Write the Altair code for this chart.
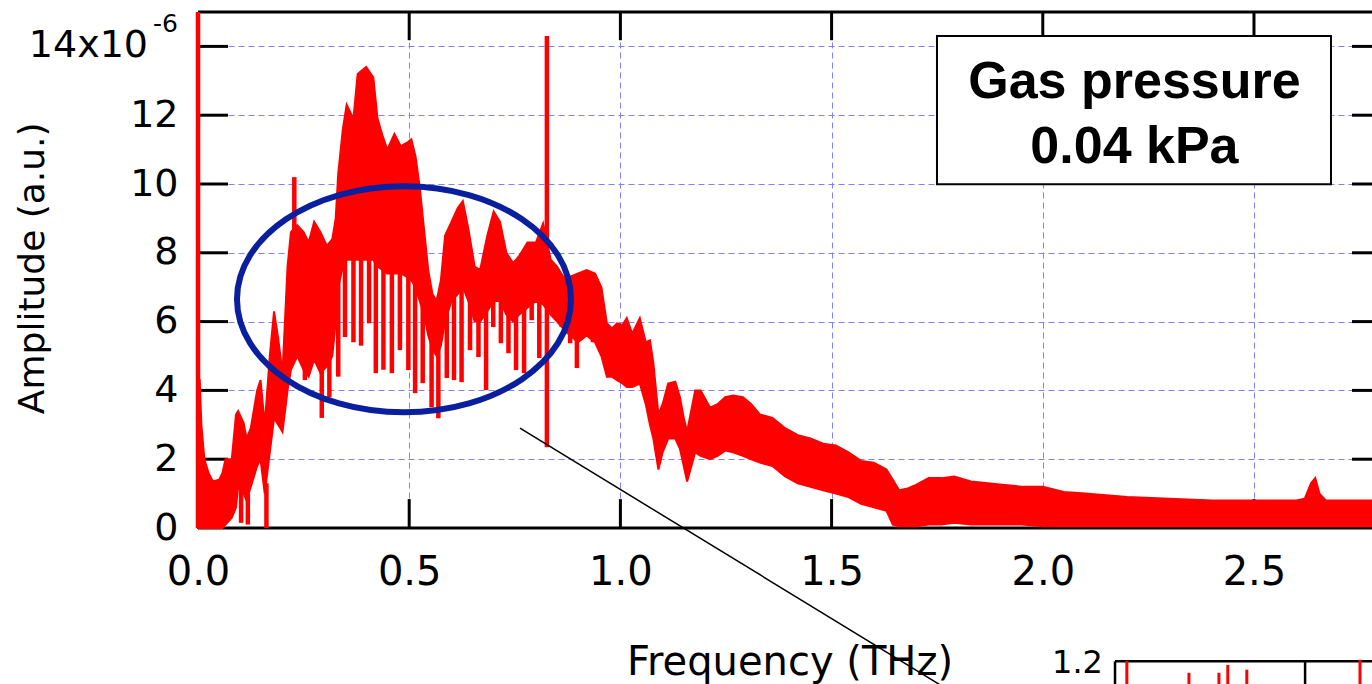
import altair as alt
import pandas as pd

# ---------------- data ----------------
# main spectrum: frequency (THz), upper envelope and lower envelope of the trace (x1e-6 a.u.)
freq = [0.000, 0.004, 0.008, 0.015, 0.025, 0.035, 0.050, 0.058, 0.065, 0.080, 0.090, 0.095,
        0.108, 0.115, 0.125, 0.140, 0.148, 0.158, 0.170, 0.180, 0.190, 0.200, 0.212, 0.220,
        0.235, 0.250, 0.262, 0.275, 0.290, 0.305, 0.318, 0.326, 0.332, 0.343, 0.352, 0.368,
        0.378, 0.398, 0.415, 0.425, 0.437, 0.448, 0.465, 0.480, 0.495, 0.505, 0.515, 0.525,
        0.535, 0.545, 0.555, 0.565, 0.575, 0.585, 0.600, 0.615, 0.627, 0.640, 0.655, 0.668,
        0.685, 0.700, 0.715, 0.730, 0.746, 0.760, 0.780, 0.800, 0.817, 0.835, 0.850, 0.865,
        0.880, 0.900, 0.920, 0.940, 0.955, 0.968, 0.980, 0.992, 1.005, 1.015, 1.028, 1.046,
        1.060, 1.070, 1.078, 1.090, 1.100, 1.113, 1.130, 1.141, 1.150, 1.158, 1.177, 1.190,
        1.212, 1.230, 1.248, 1.267, 1.290, 1.310, 1.330, 1.360, 1.390, 1.420, 1.450, 1.480,
        1.510, 1.540, 1.570, 1.600, 1.630, 1.645, 1.660, 1.680, 1.700, 1.730, 1.760, 1.790,
        1.830, 1.870, 1.910, 1.950, 2.000, 2.050, 2.100, 2.150, 2.200, 2.300, 2.400, 2.500,
        2.600, 2.620, 2.635, 2.645, 2.655, 2.670, 2.779]
upper = [4.3, 4.3, 3.0, 2.0, 1.6, 1.35, 1.4, 1.6, 2.0, 2.0, 3.3, 3.4,
         3.05, 2.6, 2.9, 4.0, 4.3, 3.0, 5.0, 6.3, 5.5, 4.5, 7.6, 8.6,
         8.8, 8.6, 8.3, 8.9, 8.6, 8.2, 8.4, 9.0, 10.3, 11.6, 12.3, 11.9,
         13.2, 13.4, 13.1, 11.9, 11.4, 11.0, 11.45, 11.1, 11.2, 11.3, 10.8, 9.9,
         8.7, 7.5, 6.8, 6.6, 7.2, 8.5, 8.9, 9.3, 9.5, 8.7, 7.6, 7.5,
         8.5, 9.2, 8.9, 8.0, 7.7, 7.9, 8.3, 8.3, 8.85, 7.8, 7.6, 7.3,
         7.3, 7.4, 7.5, 7.4, 7.0, 5.95, 5.8, 5.95, 5.9, 6.1, 5.65, 6.1,
         5.4, 5.45, 4.8, 3.3, 3.6, 4.2, 4.25, 3.8, 3.2, 2.8, 4.0, 4.0,
         3.5, 3.6, 3.8, 3.85, 3.8, 3.6, 3.3, 3.2, 2.9, 2.7, 2.6, 2.45,
         2.4, 2.2, 1.95, 1.9, 1.7, 1.4, 1.1, 1.15, 1.25, 1.45, 1.45, 1.5,
         1.35, 1.3, 1.25, 1.2, 1.2, 1.05, 1.0, 0.95, 0.9, 0.85, 0.8, 0.8,
         0.8, 0.85, 1.3, 1.45, 1.0, 0.8, 0.8]
lower = [0.0, 0.0, 0.0, 0.0, 0.0, 0.0, 0.0, 0.0, 0.1, 0.3, 0.6, 1.2,
         1.0, 0.8, 1.2, 1.8, 2.0, 1.0, 2.2, 3.2, 3.0, 2.8, 4.0, 4.6,
         5.0, 4.6, 4.4, 4.9, 4.5, 4.7, 5.0, 6.0, 7.0, 7.6, 7.8, 7.8,
         7.8, 7.8, 7.8, 7.6, 7.5, 7.4, 7.4, 7.4, 7.3, 7.2, 7.0, 6.6,
         6.2, 5.6, 5.2, 5.0, 5.3, 6.0, 6.6, 6.8, 7.0, 6.6, 6.0, 6.0,
         6.3, 6.6, 6.6, 6.2, 6.0, 6.2, 6.4, 6.6, 6.5, 6.2, 6.0, 5.8,
         5.6, 5.4, 5.6, 5.4, 5.0, 4.4, 4.4, 4.3, 4.2, 4.1, 4.1, 4.2,
         3.6, 3.0, 2.6, 1.7, 2.2, 2.6, 2.6, 2.3, 1.8, 1.35, 2.2, 2.1,
         2.0, 2.1, 2.25, 2.2, 2.1, 2.0, 1.9, 1.8, 1.5, 1.3, 1.2, 1.1,
         1.0, 0.9, 0.7, 0.6, 0.5, 0.1, 0.05, 0.05, 0.05, 0.1, 0.1, 0.15,
         0.1, 0.1, 0.1, 0.1, 0.05, 0.05, 0.05, 0.05, 0.05, 0.05, 0.05, 0.05,
         0.05, 0.05, 0.05, 0.05, 0.05, 0.05, 0.05]

# narrow spikes / comb dips of the trace: frequency, tip value, value where the dip leaves the body
tooth_f = [0.000, 0.102, 0.118, 0.162, 0.228, 0.253, 0.293, 0.311, 0.332, 0.348, 0.368, 0.386,
           0.405, 0.421, 0.439, 0.459, 0.478, 0.498, 0.514, 0.532, 0.553, 0.569, 0.589, 0.606,
           0.624, 0.644, 0.664, 0.682, 0.699, 0.717, 0.735, 0.753, 0.772, 0.790, 0.808, 0.826,
           0.843, 0.861, 0.881, 0.897, 0.935, 0.956]
tooth_tip = [0.0, 0.15, 0.1, 0.0, 10.2, 4.3, 3.2, 3.8, 4.4, 5.55, 5.4, 5.3,
             5.95, 4.5, 4.6, 4.5, 5.17, 4.59, 3.92, 4.21, 3.51, 3.19, 4.36, 4.30,
             4.24, 5.17, 4.97, 4.01, 5.84, 5.37, 5.08, 4.59, 4.5, 6.04, 4.94, 2.35,
             6.24, 5.84, 5.37, 4.65, 5.4, 5.1]
tooth_top = [15.0, 1.4, 1.0, 1.3, 8.5, 5.0, 5.0, 5.2, 8.0, 8.0, 8.0, 8.0,
             8.0, 8.0, 7.8, 7.6, 7.6, 7.5, 7.2, 6.8, 5.6, 5.4, 6.4, 7.0,
             7.2, 6.8, 6.2, 6.5, 6.8, 6.8, 6.4, 6.2, 6.5, 6.8, 6.7, 14.3,
             6.4, 6.0, 5.8, 5.6, 5.8, 5.4]

x_ticks = [0.0, 0.5, 1.0, 1.5, 2.0, 2.5]
y_ticks = [0, 2, 4, 6, 8, 10, 12, 14]
XMAX = 2.7794
YMAX = 15.0

# inset fragment (bottom right, cut off in the picture)
inset_spike_f = [2.199, 2.346, 2.417, 2.438, 2.483, 2.751]
inset_spike_top = [-3.86, -4.21, -4.21, -3.98, -4.12, -3.83]

# ---------------- chart ----------------
xs = alt.Scale(domain=[0, XMAX], nice=False, zero=False)
ys = alt.Scale(domain=[0, YMAX], nice=False, zero=False)
FONT = "DejaVu Sans"

x_axis = alt.Axis(
    values=x_ticks, format=".1f", grid=True, gridColor="#8080ff", gridDash=[6, 4],
    gridWidth=1, ticks=False, tickSize=0, domain=False, labelFont=FONT, labelFontSize=40,
    labelColor="black", labelPadding=24, labelFlush=False, labelOverlap=False, title=None)
y_axis = alt.Axis(
    values=y_ticks, labelExpr="datum.value == 14 ? '' : datum.label", grid=True,
    gridColor="#8080ff", gridDash=[6, 4], gridWidth=1, ticks=False, tickSize=0,
    domain=False, labelFont=FONT, labelFontSize=38, labelColor="black", labelPadding=20,
    labelFlush=False, labelOverlap=False, title=None)

band_df = pd.DataFrame({"f": freq, "u": upper, "l": lower})
tooth_df = pd.DataFrame({"f": tooth_f, "tip": tooth_tip, "top": tooth_top})

def X(field):
    return alt.X(field, type="quantitative", scale=xs, axis=x_axis)

def Y(field):
    return alt.Y(field, type="quantitative", scale=ys, axis=y_axis)

# inward ticks on all four sides
tick_rows = []
for v in y_ticks[1:]:
    tick_rows.append({"x": 0.0, "x2": 0.071, "y": v, "y2": v})
    tick_rows.append({"x": XMAX - 0.0473, "x2": XMAX, "y": v, "y2": v})
for v in x_ticks[1:]:
    tick_rows.append({"x": v, "x2": v, "y": 0.0, "y2": 0.84})
    tick_rows.append({"x": v, "x2": v, "y": YMAX, "y2": YMAX - 0.82})
ticks = alt.Chart(pd.DataFrame(tick_rows)).mark_rule(color="black", strokeWidth=3).encode(
    x=X("x"), x2="x2", y=Y("y"), y2="y2")

frame_df = pd.DataFrame({"x": [0.0, 0.0, 0.0], "x2": [XMAX, XMAX, 0.0],
                         "y": [0.0, YMAX, 0.0], "y2": [0.0, YMAX, YMAX]})
frame = alt.Chart(frame_df).mark_rule(color="black", strokeWidth=3).encode(
    x=X("x"), x2="x2", y=Y("y"), y2="y2")

band = alt.Chart(band_df).mark_area(color="#ff0000", stroke="#ff0000", strokeWidth=2,
                                     interpolate="linear", opacity=1).encode(
    x=X("f"), y=Y("u"), y2="l")

teeth = alt.Chart(tooth_df).mark_rule(color="#ff0000", strokeWidth=4.5).encode(
    x=X("f"), y=Y("tip"), y2="top")

# annotation box
box = alt.Chart(pd.DataFrame({"x": [1.7495], "x2": [2.6823], "y": [14.30], "y2": [9.99]})).mark_rect(
    fill="white", stroke="black", strokeWidth=2).encode(x=X("x"), x2="x2", y=Y("y"), y2="y2")
box_text = alt.Chart(pd.DataFrame({"x": [2.217, 2.217], "y": [12.49, 10.60],
                                   "t": ["Gas pressure", "0.04 kPa"]})).mark_text(
    font="Liberation Sans", fontWeight="bold", fontSize=52, color="black",
    align="center", baseline="alphabetic").encode(x=X("x"), y=Y("y"), text="t:N")

# ellipse highlight
ellipse = alt.Chart(pd.DataFrame({"x": [0.4877], "y": [6.651]})).mark_point(
    shape="M -1 0 A 1 0.677 0 1 1 1 0 A 1 0.677 0 1 1 -1 0 Z", size=111556, filled=False,
    stroke="#0a1f9e", strokeWidth=6, opacity=1).encode(x=X("x"), y=Y("y"))

# pointer line to the inset
pointer = alt.Chart(pd.DataFrame({"x": [0.7623], "x2": [1.7685], "y": [2.904], "y2": [-4.647]})).mark_rule(
    color="black", strokeWidth=1.5).encode(x=X("x"), x2="x2", y=Y("y"), y2="y2")

# axis titles and the exponent label
titles = alt.Chart(pd.DataFrame({"x": [1.4015], "y": [-4.27], "t": ["Frequency (THz)"]})).mark_text(
    font=FONT, fontSize=40, color="black", align="center", baseline="alphabetic").encode(
    x=X("x"), y=Y("y"), text="t:N")
ytitle = alt.Chart(pd.DataFrame({"x": [-0.3646], "y": [7.55], "t": ["Amplitude (a.u.)"]})).mark_text(
    font=FONT, fontSize=36, color="black", align="center", baseline="alphabetic", angle=270).encode(
    x=X("x"), y=Y("y"), text="t:N")
top_label = alt.Chart(pd.DataFrame({"x": [-0.1184], "y": [14.0], "t": ["14x10"]})).mark_text(
    font=FONT, fontSize=38, color="black", align="right", baseline="middle").encode(
    x=X("x"), y=Y("y"), text="t:N")
exponent = alt.Chart(pd.DataFrame({"x": [-0.0473], "y": [14.64], "t": ["-6"]})).mark_text(
    font=FONT, fontSize=25, color="black", align="right", baseline="middle").encode(
    x=X("x"), y=Y("y"), text="t:N")

# inset fragment
inset_frame = alt.Chart(pd.DataFrame({"x": [2.171, 2.171, 2.621], "x2": [XMAX, 2.171, 2.621],
                                      "y": [-3.877, -3.877, -3.877], "y2": [-3.877, -4.8, -4.8]})).mark_rule(
    color="black", strokeWidth=2.5).encode(x=X("x"), x2="x2", y=Y("y"), y2="y2")
inset_spikes = alt.Chart(pd.DataFrame({"f": inset_spike_f, "t": inset_spike_top})).mark_rule(
    color="#ff0000", strokeWidth=3).encode(x=X("f"), y=Y("t"), y2=alt.datum(-4.8))
inset_label = alt.Chart(pd.DataFrame({"x": [2.1425], "y": [-4.21], "t": ["1.2"]})).mark_text(
    font=FONT, fontSize=32, color="black", align="right", baseline="alphabetic").encode(
    x=X("x"), y=Y("y"), text="t:N")

chart = alt.layer(
    ticks, frame, band, teeth, box, box_text, ellipse, pointer,
    titles, ytitle, top_label, exponent, inset_frame, inset_spikes, inset_label
).properties(
    width=1174, height=516,
    autosize=alt.AutoSizeParams(type="none"),
    padding={"left": 198, "top": 12, "right": 0, "bottom": 156},
).configure_view(stroke="transparent", strokeWidth=0).configure(background="white")

chart.save("out.html", embed_options={"renderer": "svg", "actions": False})
